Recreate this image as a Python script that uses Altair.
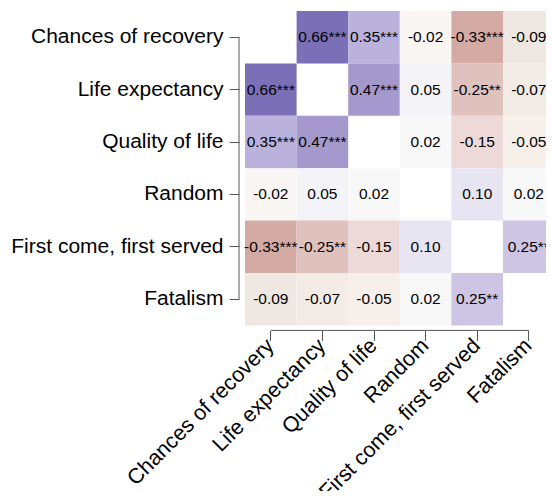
import altair as alt
import pandas as pd

variables = ["Chances of recovery", "Life expectancy", "Quality of life",
             "Random", "First come, first served", "Fatalism"]

corr = [
    [None, 0.66, 0.35, -0.02, -0.33, -0.09],
    [0.66, None, 0.47, 0.05, -0.25, -0.07],
    [0.35, 0.47, None, 0.02, -0.15, -0.05],
    [-0.02, 0.05, 0.02, None, 0.10, 0.02],
    [-0.33, -0.25, -0.15, 0.10, None, 0.25],
    [-0.09, -0.07, -0.05, 0.02, 0.25, None],
]
stars = [
    ["", "***", "***", "", "***", ""],
    ["***", "", "***", "", "**", ""],
    ["***", "***", "", "", "", ""],
    ["", "", "", "", "", ""],
    ["***", "**", "", "", "", "**"],
    ["", "", "", "", "**", ""],
]

rows = []
for i, rv in enumerate(variables):
    for j, cv in enumerate(variables):
        v = corr[i][j]
        if v is None:
            continue
        rows.append({"row": rv, "col": cv, "r": v, "label": f"{v:.2f}{stars[i][j]}"})
df = pd.DataFrame(rows)

color_domain = [-0.33, -0.25, -0.15, -0.09, -0.05, 0.0, 0.05, 0.10, 0.25, 0.35, 0.47, 0.66]
color_range = ["#d4aaa4", "#dfc1bd", "#edd9d8", "#efe7e1", "#f7f0ea", "#fafafa",
               "#f4f4f8", "#e8e5f2", "#cdc5e3", "#bab2dc", "#a598cc", "#7b6fb8"]

FONT = "Liberation Sans"
xs = alt.Scale(domain=variables, paddingInner=0, paddingOuter=0, range=[0, 309.6])
ys = alt.Scale(domain=variables, paddingInner=0, paddingOuter=0)

x_axis = alt.Axis(orient="bottom", offset=5, domain=False, tickSize=10, tickColor="#555",
                  labelAngle=-45, labelAlign="right", labelBaseline="middle",
                  labelPadding=2, labelFontSize=21.5, labelFont=FONT, labelColor="black",
                  labelLimit=400, title=None)
y_axis = alt.Axis(orient="left", offset=6, domain=False, tickSize=10, tickColor="#555",
                  labelPadding=6, labelFontSize=21, labelFont=FONT, labelColor="black",
                  labelLimit=400, title=None)

base = alt.Chart(df)
rects = base.mark_rect().encode(
    x=alt.X("col:N", scale=xs, axis=x_axis, sort=variables),
    y=alt.Y("row:N", scale=ys, axis=y_axis, sort=variables),
    color=alt.Color("r:Q", scale=alt.Scale(domain=color_domain, range=color_range), legend=None),
)
texts = base.mark_text(font=FONT, fontSize=15.5, color="black", baseline="middle", align="center").encode(
    x=alt.X("col:N", scale=xs, axis=x_axis, sort=variables),
    y=alt.Y("row:N", scale=ys, axis=y_axis, sort=variables),
    text="label:N",
)

ends = pd.DataFrame({"a": [variables[0]], "b": [variables[-1]]})
yline = alt.Chart(ends).mark_rule(color="#555", strokeWidth=1).encode(
    y=alt.Y("a:N", scale=ys, axis=y_axis), y2="b:N", x=alt.value(-6)
)
xline = alt.Chart(ends).mark_rule(color="#555", strokeWidth=1).encode(
    x=alt.X("a:N", scale=xs, axis=x_axis), x2="b:N", y=alt.value(319.4)
)

chart = alt.layer(rects, texts, yline, xline).properties(
    width=301, height=314.4,
    padding={"left": 237, "top": 3, "right": 0, "bottom": 166},
    autosize=alt.AutoSizeParams(type="none"),
).configure_view(stroke=None)

chart.save("out.html", embed_options={"renderer": "svg", "actions": False})
